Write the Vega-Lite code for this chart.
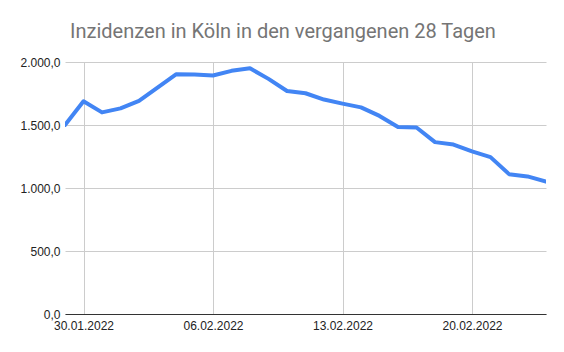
{
  "$schema": "https://vega.github.io/schema/vega-lite/v6.json",
  "autosize": {"type": "none"},
  "width": 481,
  "height": 252,
  "padding": {"left": 65, "top": 62, "right": 18, "bottom": 38},
  "background": "white",
  "config": {
    "view": {"stroke": null},
    "locale": {"number": {"decimal": ",", "thousands": ".", "grouping": [3], "currency": ["", " €"]}}
  },
  "title": {
    "text": "Inzidenzen in Köln in den vergangenen 28 Tagen",
    "font": "Roboto",
    "fontSize": 20,
    "fontWeight": "normal",
    "color": "#757575",
    "anchor": "middle",
    "frame": "bounds",
    "baseline": "alphabetic",
    "offset": -2
  },
  "data": {
    "values": [
      {"date": "2022-01-29", "value": 1500},
      {"date": "2022-01-30", "value": 1688},
      {"date": "2022-01-31", "value": 1600},
      {"date": "2022-02-01", "value": 1632},
      {"date": "2022-02-02", "value": 1692},
      {"date": "2022-02-03", "value": 1797},
      {"date": "2022-02-04", "value": 1902},
      {"date": "2022-02-05", "value": 1900},
      {"date": "2022-02-06", "value": 1893},
      {"date": "2022-02-07", "value": 1930},
      {"date": "2022-02-08", "value": 1950},
      {"date": "2022-02-09", "value": 1866},
      {"date": "2022-02-10", "value": 1770},
      {"date": "2022-02-11", "value": 1752},
      {"date": "2022-02-12", "value": 1702},
      {"date": "2022-02-13", "value": 1670},
      {"date": "2022-02-14", "value": 1640},
      {"date": "2022-02-15", "value": 1572},
      {"date": "2022-02-16", "value": 1484},
      {"date": "2022-02-17", "value": 1480},
      {"date": "2022-02-18", "value": 1364},
      {"date": "2022-02-19", "value": 1345},
      {"date": "2022-02-20", "value": 1290},
      {"date": "2022-02-21", "value": 1245},
      {"date": "2022-02-22", "value": 1110},
      {"date": "2022-02-23", "value": 1092},
      {"date": "2022-02-24", "value": 1050}
    ]
  },
  "mark": {"type": "line", "color": "#4285F4", "strokeWidth": 4, "strokeJoin": "round", "strokeCap": "round", "clip": true},
  "encoding": {
    "x": {
      "field": "date",
      "type": "temporal",
      "scale": {"type": "utc", "domain": ["2022-01-29", "2022-02-24"], "nice": false},
      "axis": {
        "title": null,
        "values": ["2022-01-30", "2022-02-06", "2022-02-13", "2022-02-20"],
        "format": "%d.%m.%Y",
        "labelFont": "Liberation Sans",
        "labelFontSize": 12,
        "labelColor": "#222222",
        "labelPadding": 6,
        "ticks": false,
        "domainColor": "#333333",
        "grid": true,
        "gridColor": "#cccccc",
        "labelFlush": false
      }
    },
    "y": {
      "field": "value",
      "type": "quantitative",
      "scale": {"domain": [0, 2000], "nice": false},
      "axis": {
        "title": null,
        "values": [0, 500, 1000, 1500, 2000],
        "format": ",.1f",
        "labelFont": "Liberation Sans",
        "labelFontSize": 12,
        "labelColor": "#222222",
        "labelPadding": 5,
        "ticks": false,
        "domain": false,
        "grid": true,
        "gridColor": "#cccccc"
      }
    }
  }
}
